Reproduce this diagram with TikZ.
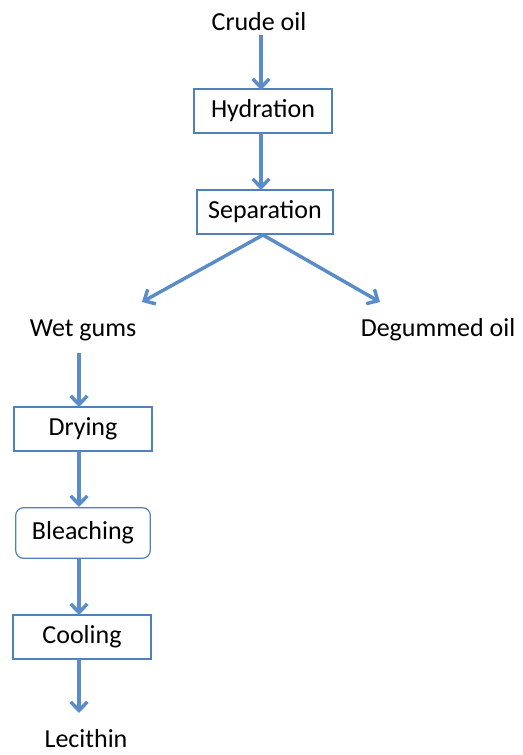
\documentclass[tikz,border=0pt]{standalone}
\usepackage{fontspec}
\setmainfont{Carlito}
\usetikzlibrary{arrows.meta}
\definecolor{flowblue}{HTML}{4F81BD}
\definecolor{arrowblue}{HTML}{5A8DC8}
\begin{document}
\begin{tikzpicture}[x=0.75pt,y=-0.75pt,
  txt/.style={font=\fontsize{19.5pt}{23pt}\selectfont, inner sep=0pt},
  procbox/.style={draw=flowblue, line width=0.9pt, minimum width=103.5pt, minimum height=33pt, font=\fontsize{19.5pt}{23pt}\selectfont, inner sep=0pt},
  flow/.style={draw=arrowblue, line width=2.6pt, -{Straight Barb[length=6.5pt,width=12.5pt,line width=2.6pt]}}]
\useasboundingbox (0,0) rectangle (522,755);
\node[txt] (crude) at (259,22) {Crude oil};
\node[procbox] (hyd) at (263,111) {Hydration};
\node[procbox, minimum width=102pt] (sep) at (265,212) {Separation};
\node[txt] (wet) at (83,330) {Wet gums};
\node[txt] (deg) at (438,330) {Degummed oil};
\node[procbox] (dry) at (83,429) {Drying};
\node[procbox, rounded corners=6pt, minimum width=101pt, minimum height=38pt] (ble) at (83,533) {Bleaching};
\node[procbox] (cool) at (82,637) {Cooling};
\node[txt, anchor=base] (lec) at (86,747) {Lecithin};
\coordinate (c1) at (261,35);
\coordinate (sb) at (263,235);
\coordinate (lt) at (142,302);
\coordinate (rt) at (380,302);
\coordinate (w1) at (79,353);
\coordinate (lt2) at (79,713);
\draw[flow] (c1) -- (261,90);
\draw[flow] (261,133) -- (261,190);
\draw[flow] (sb) -- (lt);
\draw[flow] (sb) -- (rt);
\draw[flow] (w1) -- (79,407);
\draw[flow] (79,451) -- (79,507);
\draw[flow] (79,559) -- (79,615);
\draw[flow] (79,659) -- (lt2);
\end{tikzpicture}
\end{document}
